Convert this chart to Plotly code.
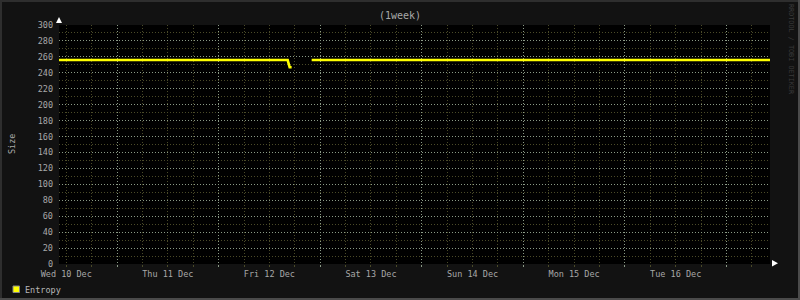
import plotly.graph_objects as go

# ---- data ----
times = ["2025-12-10 10:17", "2025-12-12 16:19", "2025-12-12 16:47", "2025-12-12 17:15",
         "2025-12-12 17:16", "2025-12-12 21:59", "2025-12-17 10:17"]
entropy = [256, 256, 247, 247, None, 256, 256]
x_range = ["2025-12-10 10:17", "2025-12-17 10:17"]
label_pos = ["2025-12-10 12:00", "2025-12-11 12:00", "2025-12-12 12:00", "2025-12-13 12:00",
             "2025-12-14 12:00", "2025-12-15 12:00", "2025-12-16 12:00"]
label_text = ["Wed 10 Dec", "Thu 11 Dec", "Fri 12 Dec", "Sat 13 Dec",
              "Sun 14 Dec", "Mon 15 Dec", "Tue 16 Dec"]
y_range = [0, 300]

W, H = 800, 300
L, R, T, B = 59, 770, 25, 264
def px(x):
    return (x - L) / (R - L)
def py(y):
    return (B - y) / (B - T)

MONO = "DejaVu Sans Mono"
TXT = "#a8a8a8"
MAJ = "#8a9a86"
MIN = "#4a4a28"

fig = go.Figure()
fig.add_trace(go.Scatter(x=times, y=entropy, mode="lines", connectgaps=False,
                         line=dict(color="#ffff00", width=2.6), name="Entropy",
                         showlegend=False, xaxis="x", yaxis="y"))
# invisible trace for label axis
fig.add_trace(go.Scatter(x=x_range, y=[None, None], xaxis="x2", yaxis="y",
                         showlegend=False, hoverinfo="skip"))

fig.update_layout(
    width=W, height=H,
    margin=dict(l=L, r=W - R, t=T, b=H - B),
    paper_bgcolor="#121212", plot_bgcolor="#000000",
    font=dict(family=MONO, size=8.5, color=TXT),
    xaxis=dict(type="date", range=x_range, tick0="2025-12-11", dtick=86400000,
               showticklabels=False, ticks="outside", ticklen=2, tickcolor=MAJ,
               showgrid=True, gridcolor=MAJ, griddash="1px,2px", gridwidth=1,
               zeroline=False, showline=False,
               minor=dict(tick0="2025-12-11", dtick=6 * 3600000, showgrid=True,
                          gridcolor=MIN, griddash="1px,2px", ticks="outside",
                          ticklen=2, tickcolor=MIN)),
    xaxis2=dict(type="date", range=x_range, overlaying="x", anchor="y", side="bottom",
                tickmode="array", tickvals=label_pos, ticktext=label_text,
                showgrid=False, ticks="", zeroline=False, showline=False,
                ticklabelstandoff=3,
                tickfont=dict(family=MONO, size=8.5, color=TXT)),
    yaxis=dict(range=y_range, dtick=20, tick0=0, showgrid=True, gridcolor=MAJ,
               griddash="1px,2px", zeroline=False, showline=False,
               ticks="", ticklabelstandoff=5, tickfont=dict(family=MONO, size=8.5, color=TXT),
               minor=dict(dtick=10, showgrid=True, gridcolor=MIN, griddash="1px,2px")),
    showlegend=False,
)

def A(text, x, y, **kw):
    d = dict(text=text, xref="paper", yref="paper", x=px(x), y=py(y),
             xanchor="center", yanchor="middle", showarrow=False,
             font=dict(family=MONO, size=8.5, color=TXT))
    d.update(kw)
    return d

ann = [
    A("(1week)", 400, 16, font=dict(family=MONO, size=10, color=TXT)),
    A("Size", 12, 144, textangle=-90),
    A("RRDTOOL / TOBI OETIKER", 791, 49, textangle=90,
      font=dict(family=MONO, size=6.8, color="#3a3a3a")),
    A("Entropy", 23, 289.5, xanchor="left", font=dict(family=MONO, size=8.5, color="#b8b8b8")),
]
fig.update_layout(annotations=ann)

shapes = []
# legend square
shapes.append(dict(type="rect", xref="paper", yref="paper", x0=px(13), x1=px(19.5),
                   y0=py(286), y1=py(292.5), fillcolor="#ffff00",
                   line=dict(color="#888888", width=1)))
# axis arrows
shapes.append(dict(type="path", xref="paper", yref="paper",
                   path=f"M {px(56)} {py(23)} L {px(62)} {py(23)} L {px(59)} {py(17)} Z",
                   fillcolor="#ffffff", line=dict(width=0)))
shapes.append(dict(type="path", xref="paper", yref="paper",
                   path=f"M {px(772)} {py(260)} L {px(772)} {py(266.5)} L {px(778)} {py(263.3)} Z",
                   fillcolor="#ffffff", line=dict(width=0)))
# outer border
shapes.append(dict(type="line", xref="paper", yref="paper", x0=px(0), x1=px(800), y0=py(1), y1=py(1),
                   line=dict(color="#2e2e2e", width=2)))
shapes.append(dict(type="line", xref="paper", yref="paper", x0=px(1), x1=px(1), y0=py(0), y1=py(300),
                   line=dict(color="#2e2e2e", width=2)))
shapes.append(dict(type="line", xref="paper", yref="paper", x0=px(0), x1=px(800), y0=py(299), y1=py(299),
                   line=dict(color="#4a4a4a", width=2)))
shapes.append(dict(type="line", xref="paper", yref="paper", x0=px(799), x1=px(799), y0=py(0), y1=py(300),
                   line=dict(color="#4a4a4a", width=2)))
fig.update_layout(shapes=shapes)

fig.write_html("out.html")
